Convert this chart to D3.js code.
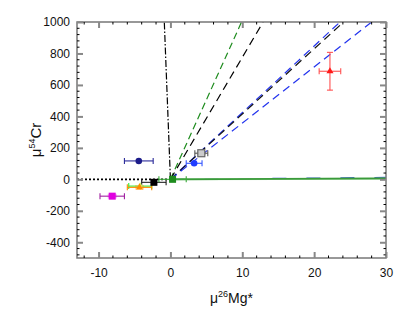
<!DOCTYPE html>
<html>
<head>
<meta charset="utf-8">
<script src="https://cdn.jsdelivr.net/npm/d3@7"></script>
<style>
  body { margin: 0; background: #fff; }
  text { font-family: "Liberation Sans", Arial, sans-serif; }
</style>
</head>
<body>
<div id="chart"></div>
<script>
// Axis ticks
const xTicks = [-10, 0, 10, 20, 30];
const yTicks = [-400, -200, 0, 200, 400, 600, 800, 1000];

// Reference lines: [x1, y1, x2, y2]
const lineIds = ["dotted", "dashdot", "green", "black1", "blue1", "black2", "blue2", "blueFlat", "lightFlat", "greenFlat"];
const lineStarts = [[-13, 0], [0, 0], [0, 0], [0, 0], [0, 0], [0, 0], [0, 0], [0, 0], [0, 0], [0, 0]];
const lineEnds = [[0, 0], [-0.85, 1000], [9.9, 1000], [12.9, 1000], [23.6, 1000], [24.1, 1000], [28.0, 1000], [30, 12], [30, 3], [30, 6]];
const lineColors = ["#000", "#000", "#1e8c1e", "#000", "#2233ee", "#111", "#2233ee", "#3355cc", "#a6dca6", "#3a9a3a"];
const lineDashes = ["2,2", "7,2,1.5,2", "7,4", "8,5", "8,5", "8,5", "8,5", "14,20", null, null];

// Data points
const ptNames = ["navy", "blue", "gray", "black", "lightgreen", "orange", "magenta", "red", "green"];
const ptX = [-4.4, 3.3, 4.3, -2.3, -4.2, -4.3, -8.1, 22.2, 0.3];
const ptY = [117, 102, 166, -19, -43, -51, -107, 687, 0];
const ptXErr = [2.0, 1.1, 0.9, 1.7, 1.6, 1.7, 1.7, 1.5, 1.9];
const ptYErr = [0, 0, 12, 0, 0, 15, 15, 120, 0];
const ptShapes = ["circle", "circle", "opensquare", "square", "diamond", "triangle", "square", "triangle", "square"];
const ptColors = ["#1c1c8a", "#1f3cff", "#666", "#000", "#c8f060", "#ff8a00", "#e000e0", "#ff1a1a", "#1e8c1e"];
const errColors = ["#2a2a9a", "#3355ff", "#555", "#222", "#33ee33", "#ff8a00", "#a020a0", "#ff5050", "#3aaa3a"];

const W = 415, H = 328;
const margin = { top: 22, right: 29, bottom: 70, left: 77 };
const width = W - margin.left - margin.right;
const height = H - margin.top - margin.bottom;

const svg = d3.select("#chart").append("svg")
  .attr("width", W).attr("height", H);

const g = svg.append("g")
  .attr("transform", `translate(${margin.left},${margin.top})`);

const x = d3.scaleLinear().domain([-13, 30]).range([0, width]);
const y = d3.scaleLinear().domain([-500, 1000]).range([height, 0]);

// clip
svg.append("defs").append("clipPath").attr("id", "clip")
  .append("rect").attr("width", width).attr("height", height);

const plot = g.append("g").attr("clip-path", "url(#clip)");

// reference lines
lineIds.forEach((id, i) => {
  const l = plot.append("line")
    .attr("x1", x(lineStarts[i][0])).attr("y1", y(lineStarts[i][1]))
    .attr("x2", x(lineEnds[i][0])).attr("y2", y(lineEnds[i][1]))
    .attr("stroke", lineColors[i])
    .attr("stroke-width", id === "greenFlat" ? 1.8 : (id === "lightFlat" ? 2 : 1.2));
  if (lineDashes[i]) l.attr("stroke-dasharray", lineDashes[i]);
  if (id === "dotted") l.attr("stroke-width", 1.6);
});

// error bars
ptNames.forEach((n, i) => {
  const cx = x(ptX[i]), cy = y(ptY[i]);
  const eg = plot.append("g").attr("stroke", errColors[i]).attr("stroke-width", 1.1);
  eg.append("line").attr("x1", x(ptX[i] - ptXErr[i])).attr("x2", x(ptX[i] + ptXErr[i]))
    .attr("y1", cy).attr("y2", cy);
  [ptX[i] - ptXErr[i], ptX[i] + ptXErr[i]].forEach(v => {
    eg.append("line").attr("x1", x(v)).attr("x2", x(v)).attr("y1", cy - 3).attr("y2", cy + 3);
  });
  if (ptYErr[i] > 0) {
    const y0 = y(ptY[i] - ptYErr[i]), y1 = y(ptY[i] + ptYErr[i]);
    if (n === "red") {
      eg.append("line").attr("x1", cx).attr("x2", cx).attr("y1", y0).attr("y2", y1);
      [y0, y1].forEach(v => eg.append("line").attr("x1", cx - 3).attr("x2", cx + 3).attr("y1", v).attr("y2", v));
    } else {
      plot.append("rect").attr("x", cx - 4.5).attr("y", y1).attr("width", 9).attr("height", y0 - y1)
        .attr("fill", ptColors[i]).attr("opacity", 0.3);
    }
  }
});

// markers
ptNames.forEach((n, i) => {
  const cx = x(ptX[i]), cy = y(ptY[i]);
  const s = ptShapes[i];
  if (s === "circle") {
    plot.append("circle").attr("cx", cx).attr("cy", cy).attr("r", 3.3).attr("fill", ptColors[i]);
  } else if (s === "square") {
    plot.append("rect").attr("x", cx - 3.5).attr("y", cy - 3.5).attr("width", 7).attr("height", 7)
      .attr("fill", ptColors[i]);
  } else if (s === "opensquare") {
    plot.append("rect").attr("x", cx - 3.5).attr("y", cy - 3.5).attr("width", 7).attr("height", 7)
      .attr("fill", "#ccc").attr("stroke", ptColors[i]).attr("stroke-width", 1.2);
  } else if (s === "triangle") {
    plot.append("path").attr("transform", `translate(${cx},${cy})`)
      .attr("d", d3.symbol(d3.symbolTriangle, 22)).attr("fill", ptColors[i]);
  } else if (s === "diamond") {
    plot.append("path").attr("transform", `translate(${cx},${cy})`)
      .attr("d", d3.symbol(d3.symbolDiamond, 18)).attr("fill", ptColors[i]);
  }
});

// frame
g.append("rect").attr("width", width).attr("height", height)
  .attr("fill", "none").attr("stroke", "#777").attr("stroke-width", 1.5);

// minor ticks
const xMinor = d3.range(-12, 31, 2).filter(v => v % 10 !== 0);
const yMinor = d3.range(-480, 1000, 40).filter(v => v % 200 !== 0);
xMinor.forEach(v => {
  g.append("line").attr("x1", x(v)).attr("x2", x(v)).attr("y1", height).attr("y2", height - 2.5).attr("stroke", "#000");
  g.append("line").attr("x1", x(v)).attr("x2", x(v)).attr("y1", 0).attr("y2", 2.5).attr("stroke", "#000");
});
yMinor.forEach(v => {
  g.append("line").attr("x1", 0).attr("x2", 2.5).attr("y1", y(v)).attr("y2", y(v)).attr("stroke", "#000");
  g.append("line").attr("x1", width).attr("x2", width - 2.5).attr("y1", y(v)).attr("y2", y(v)).attr("stroke", "#000");
});

// major ticks via axes
const plain = d => String(d);
const xAxis = g.append("g").attr("transform", `translate(0,${height})`)
  .call(d3.axisBottom(x).tickValues(xTicks).tickFormat(plain).tickSizeInner(-6).tickSizeOuter(0).tickPadding(10));
const xTop = g.append("g")
  .call(d3.axisTop(x).tickValues(xTicks).tickSizeInner(-6).tickSizeOuter(0).tickFormat(""));
const yAxis = g.append("g")
  .call(d3.axisLeft(y).tickValues(yTicks).tickFormat(plain).tickSizeInner(-6).tickSizeOuter(0).tickPadding(7));
const yRight = g.append("g").attr("transform", `translate(${width},0)`)
  .call(d3.axisRight(y).tickValues(yTicks).tickSizeInner(-6).tickSizeOuter(0).tickFormat(""));

[xAxis, xTop, yAxis, yRight].forEach(a => {
  a.select(".domain").remove();
  a.selectAll(".tick line").attr("stroke", "#888").attr("stroke-width", 2);
  a.selectAll(".tick text").attr("font-size", 12).attr("fill", "#111")
    .attr("font-family", "Liberation Sans, Arial, sans-serif");
});

// axis titles
const xt = svg.append("text").attr("x", margin.left + width / 2).attr("y", 303)
  .attr("text-anchor", "middle").attr("font-size", 14).attr("fill", "#111");
xt.append("tspan").text("μ");
xt.append("tspan").attr("font-size", 9).attr("dy", -6).text("26");
xt.append("tspan").attr("dy", 6).text("Mg*");

const yt = svg.append("text")
  .attr("transform", `translate(41,${margin.top + height / 2}) rotate(-90)`)
  .attr("text-anchor", "middle").attr("font-size", 15).attr("fill", "#111");
yt.append("tspan").text("μ");
yt.append("tspan").attr("font-size", 9).attr("dy", -6).text("54");
yt.append("tspan").attr("dy", 6).text("Cr");
</script>
</body>
</html>
